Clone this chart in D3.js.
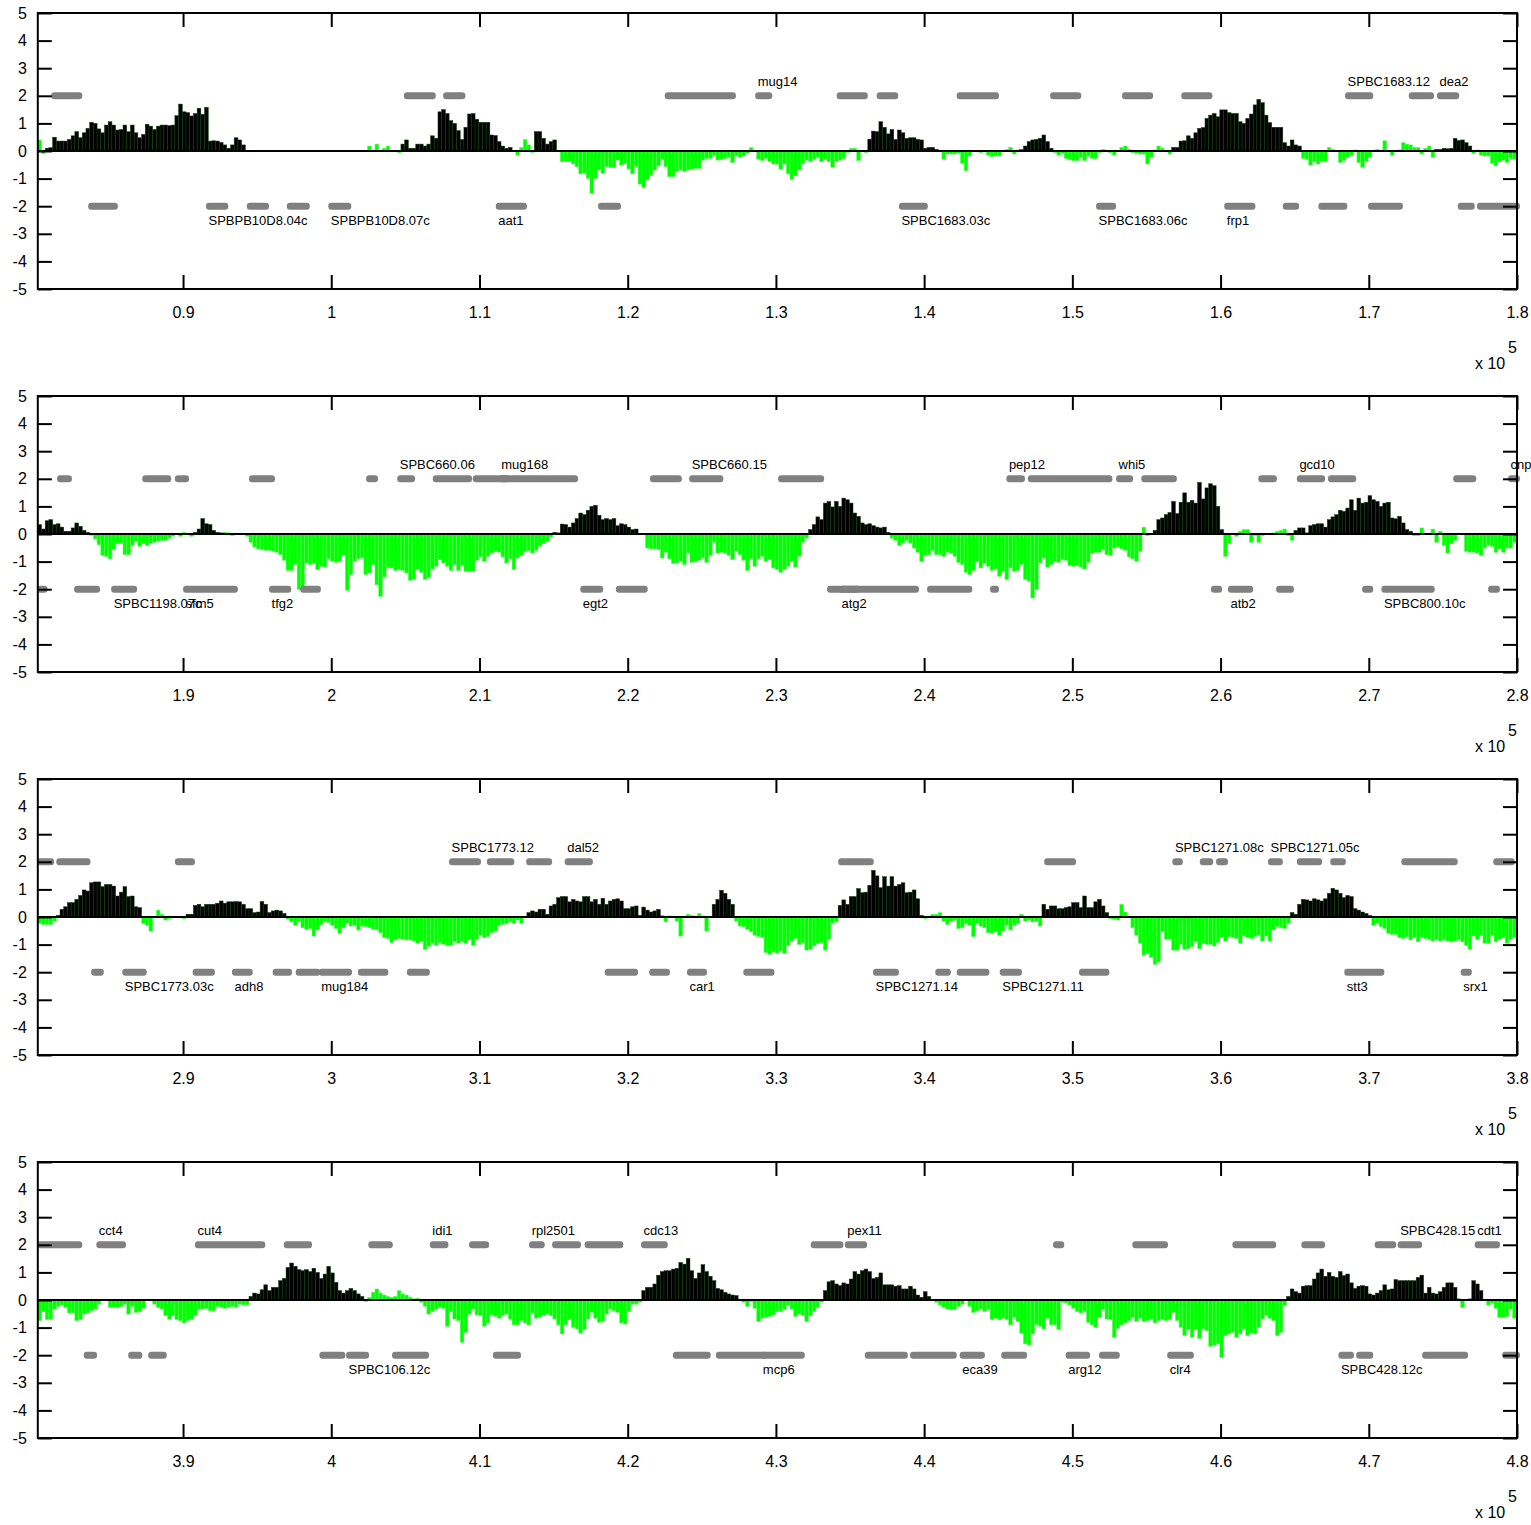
<!DOCTYPE html>
<html>
<head>
<meta charset="utf-8">
<script src="https://cdn.jsdelivr.net/npm/d3@7"></script>
<style>
  body { margin: 0; background: #fff; }
  svg text { font-family: "Liberation Sans", Arial, Helvetica, sans-serif; }
</style>
</head>
<body>
<svg id="chart" width="1531" height="1525"></svg>
<script>
// Signal per 250 bp bin along the chromosome, four consecutive 100 kb windows.
const BIN = 250;
const panelStart = [80200, 180200, 280200, 380200];
const panelEnd = [180000, 280000, 380000, 480000];
const yTicks = [-5, -4, -3, -2, -1, 0, 1, 2, 3, 4, 5];

const tickLabels1 = ["0.9", "1", "1.1", "1.2", "1.3", "1.4", "1.5", "1.6", "1.7", "1.8"];
const tickLabels2 = ["1.9", "2", "2.1", "2.2", "2.3", "2.4", "2.5", "2.6", "2.7", "2.8"];
const tickLabels3 = ["2.9", "3", "3.1", "3.2", "3.3", "3.4", "3.5", "3.6", "3.7", "3.8"];
const tickLabels4 = ["3.9", "4", "4.1", "4.2", "4.3", "4.4", "4.5", "4.6", "4.7", "4.8"];

const values1 = [
0.4,-0.1,0.1,0.12,0.5,0.36,0.36,0.36,0.42,0.55,
0.7,0.48,0.66,0.82,1.04,1.0,0.8,0.66,0.94,1.06,
0.94,0.76,0.78,0.94,0.7,0.94,0.66,0.48,0.6,0.97,
0.9,0.78,0.9,0.94,0.94,0.92,0.94,1.28,1.7,1.42,
1.39,1.27,1.36,1.55,1.33,1.58,0.36,0.37,0.36,0.31,
0.22,0.1,0.22,0.48,0.4,0.22,0,0,0,0,
0,0,0,0,0,0,0,0,0,0,
0,0,0,0,0,0,0,0,0,0,
0,0,0,0,0,0,0,0,0,0.18,
0.03,0.25,0.03,0.1,0.18,0.02,0.02,-0.06,0.25,0.4,
0.1,0.1,0.25,0.25,0.18,0.25,0.55,0.46,1.42,1.5,
1.36,1.1,1.0,0.74,0.42,0.86,1.34,1.36,1.15,1.04,
1.04,1.04,0.58,0.56,0.34,0.18,0.1,0.13,0.02,-0.15,
0.13,0.42,0.22,-0.05,0.7,0.7,0.46,0.25,0.34,0.4,
0,-0.39,-0.39,-0.39,-0.47,-0.57,-0.83,-0.81,-0.99,-1.53,
-0.99,-0.69,-0.81,-0.57,-0.59,-0.59,-0.33,-0.51,-0.45,-0.65,
-0.83,-0.57,-1.2,-1.32,-1.05,-0.87,-0.69,-0.54,-0.3,-0.57,
-0.93,-0.93,-0.75,-0.69,-0.75,-0.69,-0.66,-0.63,-0.63,-0.33,
-0.27,-0.27,-0.15,-0.33,-0.3,-0.27,-0.23,-0.42,-0.18,-0.23,
-0.18,-0.08,0.13,0,-0.3,-0.35,-0.27,-0.39,-0.47,-0.48,
-0.66,-0.47,-0.83,-1.03,-0.9,-0.69,-0.47,-0.33,-0.39,-0.3,
-0.23,-0.39,-0.3,-0.39,-0.59,-0.39,-0.33,-0.27,-0.06,0.1,
0.1,-0.35,0,-0.06,0.43,0.72,0.7,1.06,0.86,0.62,
0.78,0.42,0.76,0.66,0.46,0.48,0.48,0.42,0.4,0.1,
0.13,0.13,0.06,0.01,-0.3,-0.11,-0.11,-0.11,-0.08,-0.45,
-0.71,-0.18,-0.02,0,-0.06,-0.02,-0.15,-0.2,-0.18,-0.18,
-0.02,0.06,0.13,-0.11,0.04,0.05,0.18,0.34,0.4,0.42,
0.46,0.58,0.34,0.1,-0.06,-0.15,-0.08,-0.27,-0.3,-0.35,
-0.35,-0.23,-0.35,-0.18,-0.27,-0.27,-0.06,0.06,0,-0.06,
-0.15,0.01,0.13,0.18,0.06,-0.06,-0.08,-0.11,-0.11,-0.47,
-0.23,0.04,0.18,0.1,-0.02,-0.11,0.13,0.13,0.36,0.37,
0.55,0.46,0.66,0.82,0.85,1.18,1.3,1.36,1.24,1.49,
1.49,1.39,1.36,1.36,1.06,1.0,1.18,1.34,1.67,1.87,
1.75,1.3,1.03,0.86,0.86,0.86,0.3,0.18,0.4,0.22,
0.18,-0.27,-0.3,-0.51,-0.39,-0.47,-0.39,-0.39,0.13,0.06,
0,-0.42,-0.35,-0.23,-0.15,0.04,-0.42,-0.59,-0.39,-0.23,
-0.02,0.06,0,0.37,-0.02,-0.15,-0.02,0.04,0.3,0.25,
0.22,0.13,0.13,-0.11,0.1,0.18,-0.23,0.06,0.06,0.1,
0.08,0.1,0.46,0.38,0.4,0.3,0.18,-0.08,0.04,-0.15,
-0.18,-0.18,-0.45,-0.54,-0.39,-0.33,-0.42,-0.27,-0.3
];

const values2 = [
0.34,0.18,0.48,0.52,0.34,0.37,0.25,0.1,0.1,0.22,
0.4,0.28,0.13,0.06,-0.05,-0.18,-0.39,-0.78,-0.81,-0.9,
-0.57,-0.35,-0.33,-0.75,-0.75,-0.42,-0.27,-0.45,-0.35,-0.42,
-0.35,-0.3,-0.27,-0.23,-0.23,-0.15,-0.08,-0.02,-0.08,0.06,
-0.02,-0.08,0.06,0.18,0.56,0.37,0.34,0.13,0.06,0.04,
0.06,0.04,-0.06,0.01,-0.02,-0.02,-0.08,-0.3,-0.47,-0.54,
-0.57,-0.59,-0.59,-0.63,-0.66,-0.75,-0.95,-1.32,-1.32,-1.11,
-2.02,-1.9,-1.05,-1.11,-1.07,-1.29,-1.17,-1.2,-0.9,-0.99,
-1.03,-0.99,-0.78,-2.04,-1.47,-0.99,-0.9,-0.87,-1.47,-1.41,
-1.11,-1.84,-2.26,-1.56,-1.23,-1.23,-1.32,-1.29,-1.32,-1.41,
-1.68,-1.65,-1.29,-1.39,-1.65,-1.59,-1.27,-1.17,-0.93,-1.05,
-1.17,-1.32,-1.11,-1.32,-1.15,-1.35,-1.35,-1.35,-0.95,-0.83,
-0.99,-0.81,-0.69,-0.63,-0.66,-0.83,-1.05,-0.9,-1.29,-0.87,
-0.78,-0.63,-0.6,-0.69,-0.59,-0.45,-0.35,-0.27,-0.11,0.06,
0.04,0.36,0.34,0.25,0.4,0.56,0.76,0.7,0.86,1.0,
1.04,0.68,0.52,0.56,0.52,0.56,0.3,0.37,0.34,0.25,
0.16,0.18,-0.02,0,-0.51,-0.54,-0.54,-0.57,-0.87,-0.66,
-0.9,-1.07,-1.05,-0.99,-1.11,-0.69,-1.03,-0.99,-0.95,-0.87,
-1.03,-0.78,-0.3,-0.69,-0.66,-0.69,-0.78,-0.93,-0.63,-0.75,
-0.95,-1.32,-0.9,-1.17,-0.9,-0.81,-0.99,-0.93,-1.23,-1.29,
-1.39,-1.29,-1.17,-0.99,-1.2,-0.81,-0.3,-0.15,0.16,0.34,
0.62,0.52,1.12,1.18,0.98,1.18,1.0,1.3,1.24,1.12,
0.76,0.64,0.4,0.34,0.37,0.3,0.25,0.22,0.25,0.06,
-0.15,-0.23,-0.42,-0.33,-0.23,-0.33,-0.51,-0.66,-0.99,-0.78,
-0.75,-0.59,-0.75,-0.75,-0.81,-0.66,-0.71,-0.81,-1.03,-1.11,
-1.39,-1.47,-1.32,-0.99,-1.23,-1.07,-1.17,-1.32,-1.27,-1.53,
-1.35,-1.65,-1.23,-1.35,-1.32,-1.11,-1.65,-1.72,-2.32,-2.02,
-1.05,-0.87,-1.2,-1.11,-0.99,-1.03,-0.93,-0.95,-1.15,-1.17,
-1.15,-1.2,-1.27,-1.03,-0.71,-0.66,-0.66,-0.57,-0.75,-0.78,
-0.51,-0.47,-0.54,-0.59,-0.83,-0.9,-0.99,-0.63,0.25,-0.06,
-0.02,0.13,0.52,0.58,0.7,0.78,1.18,0.74,1.15,1.49,
1.15,1.22,1.12,1.87,1.27,1.67,1.82,1.75,1.0,0.16,
-0.81,-0.35,-0.02,-0.08,0.1,0.16,0.16,-0.3,-0.06,-0.3,
-0.06,-0.02,0,0.04,0.1,0.13,0.18,-0.06,-0.23,0.13,
0.22,0.22,0.04,0.3,0.34,0.37,0.37,0.25,0.52,0.62,
0.7,0.86,0.82,0.94,1.24,0.86,1.3,1.12,1.15,1.39,
1.24,1.18,1.0,1.12,1.15,0.58,0.55,0.64,0.4,0.16,
0.1,-0.06,-0.06,0.22,0,0,0.18,-0.3,0.1,-0.42,
-0.69,-0.35,-0.23,0,0,-0.63,-0.66,-0.66,-0.69,-0.78,
-0.51,-0.42,-0.45,-0.66,-0.54,-0.66,-0.51,-0.51,-0.3
];

const values3 = [
-0.23,-0.27,-0.27,-0.27,-0.15,0.06,0.28,0.37,0.52,0.52,
0.64,0.78,0.98,0.94,1.24,1.27,1.27,1.1,1.18,1.18,
1.12,0.76,0.9,1.1,0.74,0.76,0.37,0.34,-0.23,-0.3,
-0.51,-0.02,0.25,0.1,-0.11,-0.06,-0.02,-0.02,0,-0.06,
0.1,0.1,0.42,0.46,0.37,0.46,0.46,0.46,0.5,0.58,
0.5,0.55,0.55,0.56,0.55,0.46,0.3,0.3,0.16,0.18,
0.56,0.46,0.16,0.22,0.25,0.22,0.13,-0.08,-0.18,-0.3,
-0.15,-0.39,-0.45,-0.42,-0.69,-0.47,-0.27,-0.18,-0.2,-0.3,
-0.42,-0.59,-0.39,-0.23,-0.33,-0.3,-0.47,-0.33,-0.35,-0.39,
-0.45,-0.47,-0.57,-0.75,-0.78,-0.93,-0.83,-0.78,-0.81,-0.83,
-0.83,-0.87,-0.95,-0.9,-1.17,-1.07,-0.95,-1.03,-0.93,-0.99,
-1.03,-1.03,-0.9,-0.95,-0.9,-0.95,-0.83,-1.03,-0.81,-0.66,
-0.75,-0.71,-0.57,-0.51,-0.3,-0.27,-0.23,-0.18,-0.23,-0.11,
-0.23,-0.02,0.16,0.22,0.18,0.28,0.28,0.1,0.4,0.46,
0.7,0.74,0.74,0.55,0.64,0.58,0.55,0.74,0.74,0.55,
0.64,0.46,0.68,0.46,0.58,0.64,0.66,0.58,0.3,0.3,
0.37,0.4,0.06,0.36,0.25,0.18,0.22,0.28,0.04,-0.18,
0.04,-0.02,-0.15,-0.69,-0.02,0.1,0.06,0,0.13,0.04,
-0.51,0,0.46,0.64,0.97,0.86,0.64,0.46,-0.15,-0.33,
-0.35,-0.45,-0.54,-0.66,-0.71,-0.75,-1.29,-1.35,-1.27,-1.32,
-1.23,-1.32,-1.03,-0.87,-0.78,-0.99,-0.93,-1.2,-1.17,-1.05,
-0.95,-0.93,-1.2,-0.81,-0.23,-0.18,0.42,0.62,0.46,0.74,
0.74,1.03,0.88,0.9,1.15,1.69,1.49,1.06,1.46,1.12,
1.46,1.12,1.18,1.24,0.88,0.9,0.98,0.66,0.06,-0.06,
0,0.1,0.1,0.16,-0.15,-0.27,-0.15,-0.11,-0.42,-0.39,
-0.23,-0.3,-0.71,-0.23,-0.33,-0.39,-0.57,-0.59,-0.54,-0.66,
-0.51,-0.3,-0.47,-0.3,-0.23,0.1,-0.15,-0.11,-0.18,-0.15,
-0.33,0.46,0.28,0.4,0.4,0.3,0.3,0.34,0.37,0.52,
0.52,0.34,0.76,0.34,0.34,0.55,0.64,0.4,0.16,-0.06,
-0.08,-0.11,0.46,0.18,0,-0.39,-0.66,-0.95,-1.39,-1.32,
-1.47,-1.72,-1.63,-0.54,-0.81,-0.81,-1.2,-1.2,-0.99,-1.17,
-1.15,-1.07,-0.9,-1.15,-0.95,-0.99,-0.99,-1.05,-0.93,-0.75,
-0.87,-0.71,-0.75,-0.78,-0.95,-0.69,-0.75,-0.78,-0.71,-0.66,
-0.87,-0.69,-0.87,-0.47,-0.35,-0.39,-0.42,-0.23,0.16,0.1,
0.46,0.64,0.62,0.58,0.66,0.62,0.58,0.66,0.86,1.04,
0.98,0.86,0.7,0.78,0.74,0.3,0.25,0.18,0.13,0.06,
-0.3,-0.23,-0.35,-0.42,-0.59,-0.63,-0.63,-0.75,-0.78,-0.71,
-0.83,-0.75,-0.9,-0.75,-0.78,-0.81,-0.87,-0.83,-0.87,-0.83,
-0.87,-0.9,-0.87,-0.83,-0.9,-1.03,-1.17,-0.69,-0.81,-0.66,
-0.95,-0.95,-0.66,-0.9,-0.81,-0.75,-0.95,-0.81,-0.75
];

const values4 = [
-0.75,-0.42,-0.71,-0.71,-0.33,-0.23,-0.18,-0.27,-0.47,-0.47,
-0.75,-0.71,-0.51,-0.47,-0.39,-0.33,-0.15,-0.02,0,-0.27,
-0.27,-0.27,-0.23,-0.15,-0.51,-0.23,-0.45,-0.42,-0.3,-0.02,
0,-0.15,-0.27,-0.33,-0.57,-0.69,-0.57,-0.71,-0.75,-0.83,
-0.75,-0.69,-0.57,-0.35,-0.33,-0.3,-0.39,-0.39,-0.23,-0.27,
-0.3,-0.27,-0.23,-0.27,-0.15,-0.18,-0.18,0.13,0.25,0.22,
0.37,0.55,0.34,0.46,0.46,0.7,0.78,1.18,1.34,1.22,
1.1,1.06,1.1,1.03,1.15,1.0,0.78,0.94,1.22,0.98,
0.64,0.34,0.25,0.34,0.42,0.34,0.22,0.13,-0.06,0.1,
0.28,0.4,0.25,0.18,0.13,0.1,0.13,0.34,0.22,0.18,
0.1,0.04,0.06,-0.08,-0.23,-0.51,-0.42,-0.35,-0.27,-0.3,
-0.95,-0.42,-0.69,-0.75,-1.53,-1.17,-0.51,-0.33,-0.54,-0.57,
-0.95,-0.83,-0.54,-0.59,-0.66,-0.57,-0.51,-0.69,-0.9,-0.9,
-0.75,-0.83,-0.9,-0.47,-0.66,-0.63,-0.57,-0.51,-0.57,-0.69,
-0.9,-1.23,-0.9,-0.71,-0.99,-1.05,-1.2,-1.07,-0.69,-0.45,
-0.66,-0.81,-0.78,-0.51,-0.33,-0.39,-0.45,-0.83,-0.87,-0.42,
-0.15,-0.15,-0.08,0.34,0.46,0.46,0.58,0.9,1.03,1.06,
1.06,1.12,1.15,1.36,1.3,1.51,1.06,0.78,0.98,1.28,
1.03,0.86,0.7,0.42,0.37,0.28,0.22,0.18,0.16,0,
-0.08,-0.23,-0.06,-0.3,-0.78,-0.66,-0.63,-0.59,-0.54,-0.42,
-0.42,-0.35,-0.2,-0.33,-0.59,-0.51,-0.57,-0.78,-0.57,-0.42,
-0.27,-0.08,0.34,0.66,0.7,0.58,0.52,0.62,0.58,0.76,
1.03,0.94,1.06,1.12,1.03,0.78,0.82,0.98,0.55,0.55,
0.55,0.5,0.52,0.4,0.4,0.5,0.4,0.18,0.1,0.3,
0.13,0,-0.08,-0.18,-0.27,-0.33,-0.35,-0.35,-0.23,-0.15,
0,-0.23,-0.45,-0.39,-0.33,-0.42,-0.33,-0.71,-0.66,-0.71,
-0.66,-0.71,-0.9,-0.63,-0.78,-1.2,-1.59,-1.63,-1.23,-0.9,
-0.95,-1.05,-0.66,-0.9,-0.9,-1.07,-0.08,-0.11,-0.18,-0.3,
-0.42,-0.47,-0.42,-0.81,-0.9,-0.99,-0.63,-0.35,-0.69,-0.71,
-1.35,-1.03,-0.9,-0.83,-0.75,-0.63,-0.78,-0.66,-0.78,-0.75,
-0.71,-0.83,-0.75,-0.71,-0.75,-0.71,-0.45,-0.75,-0.99,-1.29,
-1.07,-1.35,-1.07,-1.39,-1.05,-1.11,-1.68,-1.65,-1.59,-2.08,
-1.29,-1.23,-1.17,-1.35,-1.23,-1.05,-1.29,-1.2,-1.23,-0.99,
-0.69,-0.57,-0.66,-0.75,-1.29,-1.17,-0.2,0.13,0.4,0.3,
0.25,0.5,0.52,0.52,0.76,0.98,1.12,0.86,1.0,0.86,
0.82,1.03,0.88,0.94,0.62,0.42,0.5,0.52,0.5,0.22,
0.18,0.25,0.34,0.55,0.37,0.4,0.74,0.7,0.7,0.7,
0.7,0.7,0.82,0.9,0.25,0.46,0.25,0.22,0.3,0.46,
0.62,0.62,0.46,0.04,-0.27,-0.02,0.04,0.7,0.58,0.34,
0,-0.18,-0.11,-0.3,-0.63,-0.63,-0.59,-0.33,-0.66
];

// Enriched regions (inclusive bin index ranges), drawn in black.
const peaks1 = [[2, 55], [98, 128], [134, 139], [224, 243], [265, 273], [306, 340], [377, 386]];
const peaks2 = [[0, 13], [42, 49], [139, 161], [208, 229], [301, 319], [339, 370]];
const peaks3 = [[5, 27], [40, 66], [132, 168], [182, 187], [216, 238], [271, 288], [338, 359]];
const peaks4 = [[57, 87], [163, 188], [212, 240], [337, 383], [386, 389]];

// Genes: [start, end, strand, name]; strand +1 drawn at y = 2, -1 at y = -2.
const genes1 = [
  [81100, 83200, 1], [104900, 107050, 1], [107550, 109050, 1], [122500, 127300, 1],
  [128600, 129750, 1, "mug14"], [134100, 136200, 1], [136800, 138250, 1], [142200, 145050, 1],
  [148500, 150600, 1], [153350, 155450, 1], [157350, 159450, 1],
  [168400, 170300, 1, "SPBC1683.12"], [172700, 174400, 1], [174600, 176100, 1, "dea2"],
  [83600, 85600, -1], [91550, 93050, -1, "SPBPB10D8.04c"], [94300, 95800, -1], [97000, 98550, -1],
  [99800, 101350, -1, "SPBPB10D8.07c"], [111100, 113200, -1, "aat1"], [118000, 119550, -1],
  [138300, 140250, -1, "SPBC1683.03c"], [151600, 152950, -1, "SPBC1683.06c"],
  [160250, 162350, -1, "frp1"], [164200, 165300, -1], [166600, 168550, -1], [169950, 172300, -1],
  [176000, 177150, -1], [177300, 180200, -1]
];
const genes2 = [
  [181500, 182500, 1], [187250, 189200, 1], [189450, 190400, 1], [194450, 196200, 1],
  [202350, 203150, 1], [204450, 205650, 1, "SPBC660.06"], [206850, 209500, 1], [209550, 212050, 1],
  [211300, 216650, 1, "mug168"], [221500, 223650, 1], [224150, 226450, 1, "SPBC660.15"],
  [230150, 233250, 1], [245550, 246800, 1, "pep12"], [247000, 252700, 1], [252950, 254100, 1, "whi5"],
  [254650, 257050, 1], [262550, 263800, 1], [265150, 267050, 1, "gcd10"], [267250, 269150, 1],
  [275700, 277250, 1], [279400, 280200, 1, "cnp3"],
  [180150, 180850, -1], [182650, 184400, -1], [185150, 186900, -1, "SPBC1198.07c"],
  [190000, 193700, -1, "sfm5"], [195800, 197300, -1, "tfg2"], [197900, 199300, -1],
  [216800, 218350, -1, "egt2"], [219200, 221350, -1], [233450, 235700, -1],
  [234250, 239650, -1, "atg2"], [240200, 243250, -1], [244450, 245050, -1], [259350, 260100, -1],
  [260500, 262200, -1, "atb2"], [263750, 264950, -1], [269550, 270300, -1],
  [270850, 274450, -1, "SPBC800.10c"], [278050, 278850, -1]
];
const genes3 = [
  [280150, 281300, 1], [281450, 283750, 1], [289450, 290800, 1], [307950, 310100, 1, "SPBC1773.12"],
  [310500, 312350, 1], [313150, 314900, 1], [315750, 317650, 1, "dal52"], [334200, 336600, 1],
  [348100, 350250, 1], [356750, 357450, 1, "SPBC1271.08c"], [358600, 359500, 1], [359700, 360500, 1],
  [363200, 364200, 1, "SPBC1271.05c"], [365150, 366850, 1], [367400, 368450, 1], [372200, 376000, 1],
  [378400, 379850, 1],
  [283800, 284650, -1], [285900, 287550, -1, "SPBC1773.03c"], [290650, 292150, -1],
  [293300, 294700, -1, "adh8"], [296050, 297350, -1], [297600, 299250, -1],
  [299150, 301400, -1, "mug184"], [301800, 303850, -1], [305100, 306650, -1], [318450, 320700, -1],
  [321450, 322850, -1], [324000, 325350, -1, "car1"], [327800, 329900, -1],
  [336550, 338300, -1, "SPBC1271.14"], [340750, 341800, -1], [342200, 344400, -1],
  [345100, 346600, -1, "SPBC1271.11"], [350450, 352500, -1], [368350, 371050, -1, "stt3"],
  [376200, 376950, -1, "srx1"]
];
const genes4 = [
  [380150, 383200, 1], [384150, 386150, 1, "cct4"], [390800, 395550, 1, "cut4"], [396800, 398700, 1],
  [402500, 404150, 1], [406650, 407900, 1, "idi1"], [409300, 410650, 1], [413350, 414400, 1, "rpl2501"],
  [414900, 416850, 1], [417100, 419700, 1], [420900, 422700, 1, "cdc13"], [432350, 434550, 1],
  [434650, 436150, 1, "pex11"], [448700, 449450, 1], [454050, 456450, 1], [460800, 463750, 1],
  [465450, 467050, 1], [470400, 471850, 1], [471950, 473600, 1, "SPBC428.15"],
  [477150, 478850, 1, "cdt1"],
  [383300, 384200, -1], [386300, 387250, -1], [387650, 388900, -1], [399200, 400950, -1],
  [401000, 402550, -1, "SPBC106.12c"], [404100, 406600, -1], [410900, 412800, -1],
  [423050, 425600, -1], [425950, 429450, -1], [428950, 431950, -1, "mcp6"], [436000, 438900, -1],
  [439050, 442200, -1], [442400, 444100, -1, "eca39"], [445200, 446950, -1],
  [449550, 451200, -1, "arg12"], [451800, 453200, -1], [456400, 458200, -1, "clr4"],
  [467950, 469000, -1, "SPBC428.12c"], [469150, 470300, -1], [473600, 476700, -1],
  [479000, 480200, -1]
];

const panels = [
  { values: values1, peaks: peaks1, genes: genes1, ticks: tickLabels1 },
  { values: values2, peaks: peaks2, genes: genes2, ticks: tickLabels2 },
  { values: values3, peaks: peaks3, genes: genes3, ticks: tickLabels3 },
  { values: values4, peaks: peaks4, genes: genes4, ticks: tickLabels4 }
];

const LEFT = 37.8, RIGHT = 1517, TOP0 = 13, STEP = 383, PLOT_H = 276, TICK = 14;
const FONT = '"Liberation Sans", Arial, Helvetica, sans-serif';

const svg = d3.select("#chart");
svg.append("rect").attr("width", 1531).attr("height", 1525).attr("fill", "#fff");

panels.forEach((P, p) => {
  const top = TOP0 + STEP * p, bottom = top + PLOT_H;
  const start = panelStart[p], end = panelEnd[p];
  const x = d3.scaleLinear().domain([start, end]).range([LEFT, RIGHT]);
  const y = d3.scaleLinear().domain([-5, 5]).range([bottom, top]);
  const g = svg.append("g");

  const inPeak = i => P.peaks.some(([a, b]) => i >= a && i <= b);
  const bars = P.values.map((v, i) => ({ v, i, peak: inPeak(i) })).filter(d => d.v !== 0);

  g.append("g").selectAll("rect").data(bars).join("rect")
    .attr("x", d => x(start + d.i * BIN))
    .attr("width", d => x(start + (d.i + 1) * BIN) - x(start + d.i * BIN))
    .attr("y", d => y(Math.max(d.v, 0)))
    .attr("height", d => Math.abs(y(d.v) - y(0)))
    .attr("fill", d => d.peak ? "#000000" : "#00ff00")
    .attr("stroke", d => d.peak ? "#0b3f0b" : "#5cff5c")
    .attr("stroke-width", 0.5);

  // baseline
  g.append("line")
    .attr("x1", x(start)).attr("x2", x(end))
    .attr("y1", y(0)).attr("y2", y(0))
    .attr("stroke", "#000").attr("stroke-width", 2);

  // gene models
  g.append("g").selectAll("rect").data(P.genes).join("rect")
    .attr("x", d => x(d[0]))
    .attr("width", d => x(d[1]) - x(d[0]))
    .attr("y", d => y(2 * d[2]) - 3.5)
    .attr("height", 7)
    .attr("rx", 3)
    .attr("fill", "#808080");

  g.append("g").selectAll("text").data(P.genes.filter(d => d[3])).join("text")
    .attr("x", d => x(d[0]) + 2.5)
    .attr("y", d => d[2] > 0 ? y(2) - 9.5 : y(-2) + 18.5)
    .attr("font-size", 13)
    .attr("fill", "#000")
    .text(d => d[3]);

  // axes
  const tickVals = P.ticks.map(t => Math.round(parseFloat(t) * 1e5));
  const fmt = v => P.ticks[tickVals.indexOf(v)];

  const styleAxis = sel => {
    sel.select(".domain").remove();
    sel.selectAll(".tick line").attr("stroke", "#000").attr("stroke-width", 2);
    sel.selectAll(".tick text").attr("font-size", 16).attr("font-family", FONT).attr("fill", "#000");
  };

  g.append("g").attr("transform", `translate(0,${bottom})`)
    .call(d3.axisBottom(x).tickValues(tickVals).tickFormat(fmt).tickSizeInner(-TICK).tickSizeOuter(0).tickPadding(18))
    .call(styleAxis);
  g.append("g").attr("transform", `translate(0,${top})`)
    .call(d3.axisTop(x).tickValues(tickVals).tickFormat("").tickSizeInner(-TICK).tickSizeOuter(0))
    .call(styleAxis);
  g.append("g").attr("transform", `translate(${LEFT},0)`)
    .call(d3.axisLeft(y).tickValues(yTicks).tickFormat(d3.format("d")).tickSizeInner(-TICK).tickSizeOuter(0).tickPadding(11))
    .call(styleAxis);
  g.append("g").attr("transform", `translate(${RIGHT},0)`)
    .call(d3.axisRight(y).tickValues(yTicks).tickFormat("").tickSizeInner(-TICK).tickSizeOuter(0))
    .call(styleAxis);

  g.selectAll(".tick text").filter(function () { return this.textContent.startsWith("−"); })
    .text(function () { return "-" + this.textContent.slice(1); });

  // frame
  g.append("rect")
    .attr("x", LEFT).attr("y", top)
    .attr("width", RIGHT - LEFT).attr("height", PLOT_H)
    .attr("fill", "none").attr("stroke", "#000").attr("stroke-width", 2);

  // exponent label
  g.append("text").attr("x", 1475).attr("y", bottom + 80)
    .attr("font-size", 16).attr("font-family", FONT).text("x 10");
  g.append("text").attr("x", 1508).attr("y", bottom + 64)
    .attr("font-size", 16).attr("font-family", FONT).text("5");
});
</script>
</body>
</html>
